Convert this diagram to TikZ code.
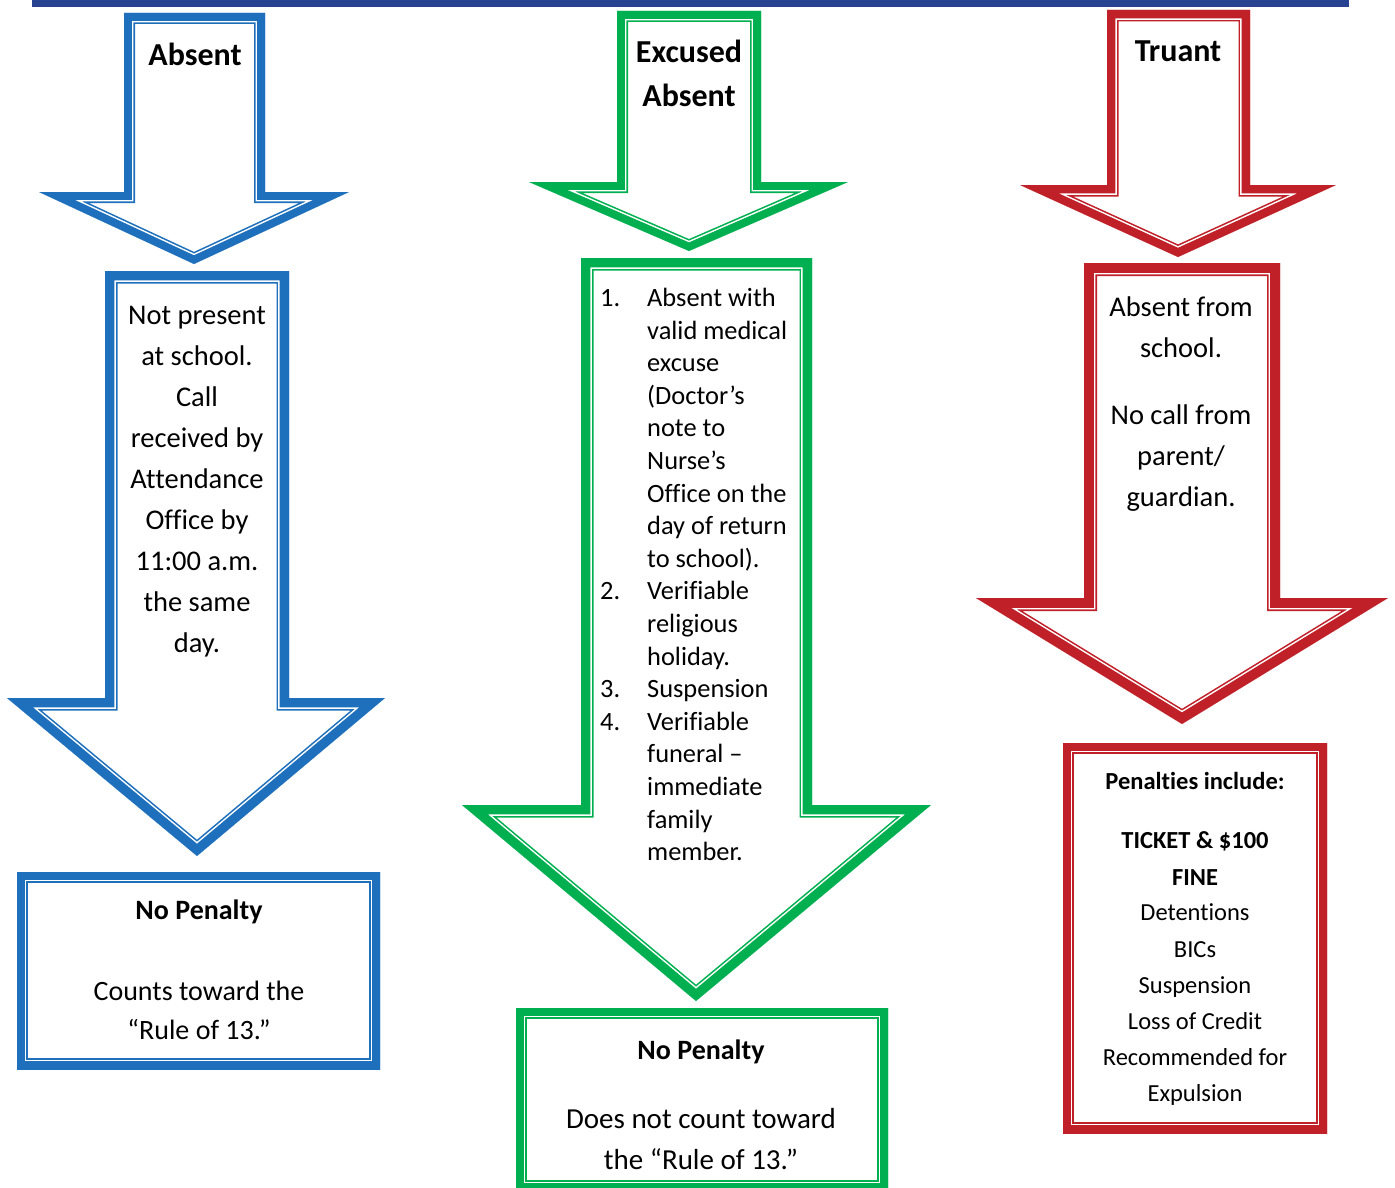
\documentclass[tikz,border=0pt]{standalone}
\usepackage{fontspec}
\setmainfont{Carlito}[Ligatures={CommonOff,ContextualOff}]
\definecolor{barblue}{RGB}{40,66,146}
\definecolor{cblue}{RGB}{30,112,188}
\definecolor{cgreen}{RGB}{0,176,80}
\definecolor{cred}{RGB}{192,32,40}
\newcommand{\dblshape}[3]{%
  \begin{scope}
    \clip #3;
    \draw[#1, line width={2*#2}] #3;
    \draw[white, line width={2*(#2-1.6)}] #3;
    \draw[#1, line width={2*(#2-3.1)}] #3;
  \end{scope}}
\tikzset{
  hdr/.style={font=\bfseries\fontsize{32}{44}\selectfont, align=center, inner sep=0pt},
  bodytxt/.style={font=\fontsize{28.5}{41}\selectfont, align=center, inner sep=0pt},
  listtxt/.style={font=\fontsize{26.4}{32.6}\selectfont, align=left, inner sep=0pt, anchor=west},
  boxhdr/.style={font=\bfseries\fontsize{28}{39}\selectfont, align=center, inner sep=0pt},
  boxtxt/.style={font=\fontsize{28}{39}\selectfont, align=center, inner sep=0pt},
  penhdr/.style={font=\bfseries\fontsize{24.5}{36.6}\selectfont, align=center, inner sep=0pt},
  pentxt/.style={font=\fontsize{24.5}{36.2}\selectfont, align=center, inner sep=0pt},
}
\begin{document}
\begin{tikzpicture}[x=1pt,y=-1pt]
\useasboundingbox (0,0) rectangle (1395,1188);
\clip (0,0) rectangle (1395,1188);
% top bar
\fill[barblue] (32,0) rectangle (1349,7);

% ---------- blue column ----------
\dblshape{cblue}{11}{(124,13) -- (265,13) -- (265,192) -- (349,192) -- (194,264) -- (39,192) -- (124,192) -- cycle}
\dblshape{cblue}{12.5}{(105,271) -- (289,271) -- (289,698) -- (385,698) -- (197,856) -- (7,698) -- (105,698) -- cycle}
\dblshape{cblue}{11}{(17,872) rectangle (380,1069)}

% ---------- green column ----------
\dblshape{cgreen}{11}{(617,11) -- (761,11) -- (761,182) -- (848,182) -- (689,251) -- (529,182) -- (617,182) -- cycle}
\dblshape{cgreen}{12.5}{(581,258) -- (812,258) -- (812,805) -- (931,805) -- (696,1001) -- (462,805) -- (581,805) -- cycle}
\dblshape{cgreen}{11}{(516,1008) rectangle (888,1191)}

% ---------- red column ----------
\dblshape{cred}{11.5}{(1107,10) -- (1250,10) -- (1250,185) -- (1336,185) -- (1178,257) -- (1020,185) -- (1107,185) -- cycle}
\dblshape{cred}{13}{(1084,263) -- (1280,263) -- (1280,598) -- (1388,598) -- (1182,724) -- (976,598) -- (1084,598) -- cycle}
\dblshape{cred}{11}{(1063,743) rectangle (1327,1133)}

% ---------- texts ----------
\node[hdr] (hAbs) at (195,54.5) {Absent};
\node[hdr] (hExc) at (689,73) {Excused\\Absent};
\node[hdr] (hTru) at (1178,51) {Truant};

\node[bodytxt] (absBody) at (197,481.5) {Not present\\at school.\\Call\\received by\\Attendance\\Office by\\11:00 a.m.\\the same\\day.};

\node[listtxt] (excBody) at (600,574.5) {%
\makebox[47pt][l]{1.}Absent with\\
\hspace*{47pt}valid medical\\
\hspace*{47pt}excuse\\
\hspace*{47pt}(Doctor’s\\
\hspace*{47pt}note to\\
\hspace*{47pt}Nurse’s\\
\hspace*{47pt}Office on the\\
\hspace*{47pt}day of return\\
\hspace*{47pt}to school).\\
\makebox[47pt][l]{2.}Verifiable\\
\hspace*{47pt}religious\\
\hspace*{47pt}holiday.\\
\makebox[47pt][l]{3.}Suspension\\
\makebox[47pt][l]{4.}Verifiable\\
\hspace*{47pt}funeral –\\
\hspace*{47pt}immediate\\
\hspace*{47pt}family\\
\hspace*{47pt}member.};

\node[bodytxt] (truBody) at (1181,404.5) {Absent from\\school.\\[26pt]No call from\\parent/\\guardian.};

\node[boxhdr] (absPenH) at (199,912) {No Penalty};
\node[boxtxt] (absPenT) at (199,1010.5) {Counts toward the\\“Rule of 13.”};

\node[boxhdr] (excPenH) at (701,1051.5) {No Penalty};
\node[boxtxt, font=\fontsize{29}{41}\selectfont] (excPenT) at (701,1139) {Does not count toward\\the “Rule of 13.”};

\node[penhdr] (truPenH) at (1195,781) {Penalties include:};
\node[penhdr] (truPenB) at (1195,858.5) {TICKET \& \$100\\FINE};
\node[pentxt] (truPenT) at (1195,1005) {Detentions\\BICs\\Suspension\\Loss of Credit\\Recommended for\\Expulsion};
\end{tikzpicture}
\end{document}
